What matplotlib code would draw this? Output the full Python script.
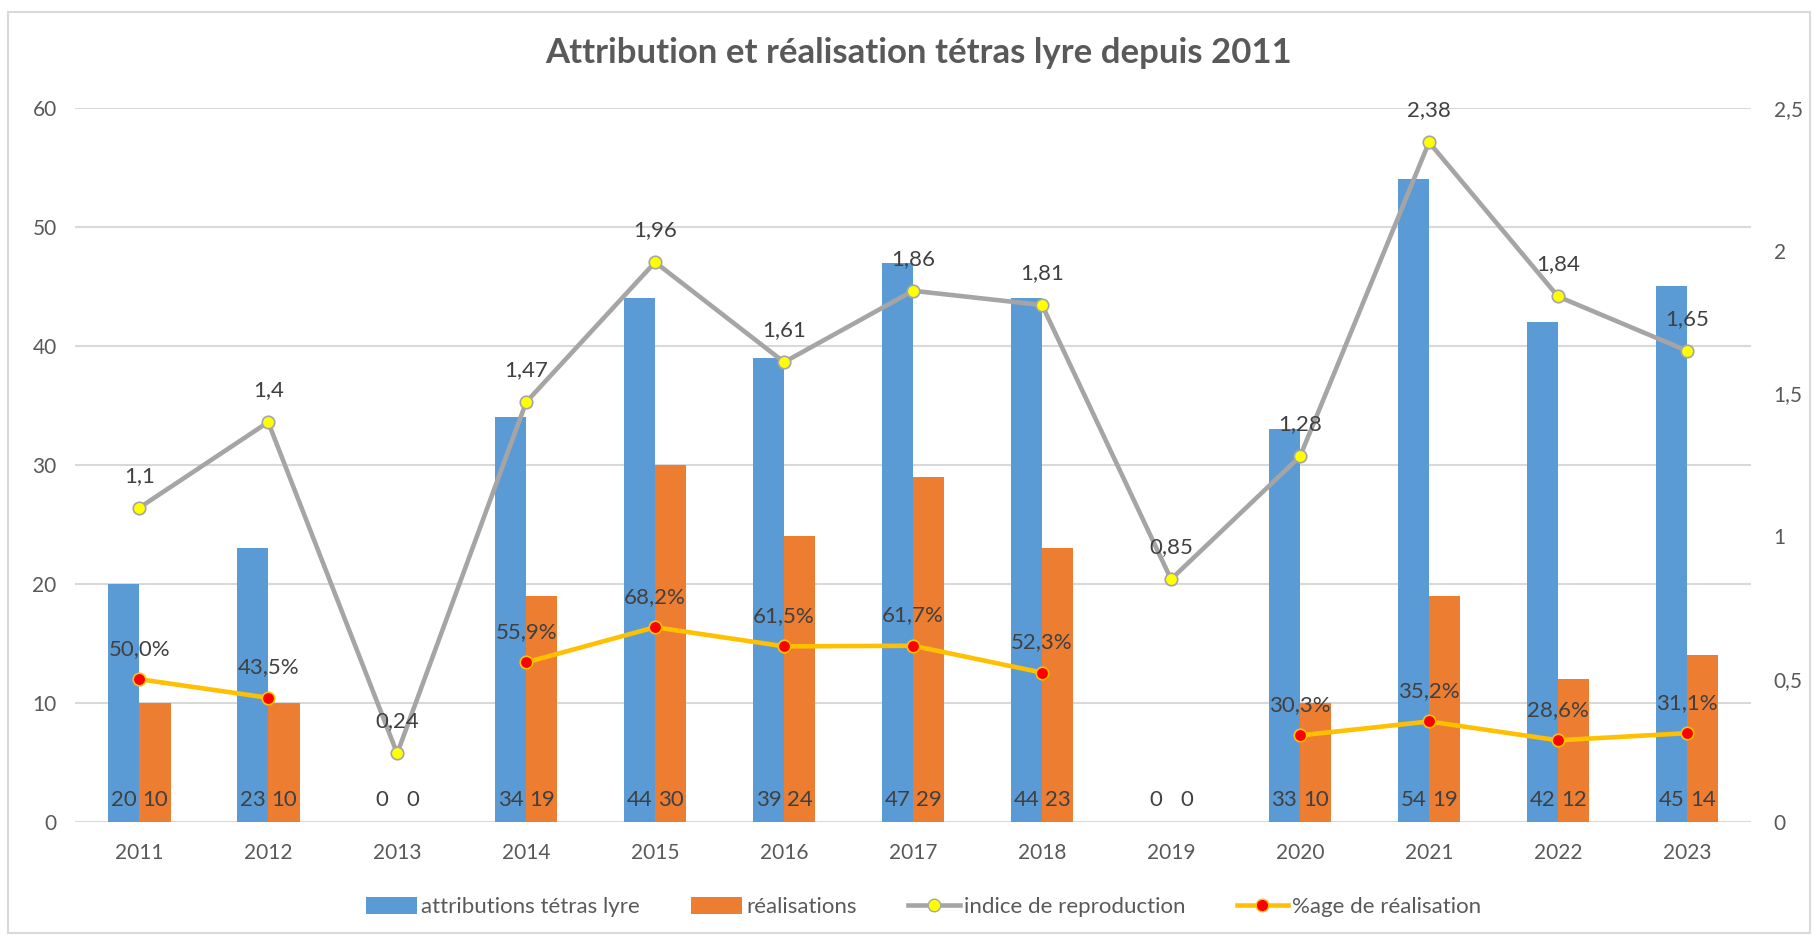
import numpy as np
import matplotlib
matplotlib.use('Agg')
import matplotlib.pyplot as plt
from matplotlib.patches import Rectangle, Patch
from matplotlib.lines import Line2D

plt.rcParams['font.family'] = ['Lato', 'DejaVu Sans']

# data
years = ['2011', '2012', '2013', '2014', '2015', '2016', '2017', '2018',
         '2019', '2020', '2021', '2022', '2023']
attributions = [20, 23, 0, 34, 44, 39, 47, 44, 0, 33, 54, 42, 45]
realisations = [10, 10, 0, 19, 30, 24, 29, 23, 0, 10, 19, 12, 14]
indice = [1.1, 1.4, 0.24, 1.47, 1.96, 1.61, 1.86, 1.81, 0.85, 1.28, 2.38, 1.84, 1.65]
pct_real = [50.0, 43.5, np.nan, 55.9, 68.2, 61.5, 61.7, 52.3, np.nan, 30.3, 35.2, 28.6, 31.1]

blue = '#5B9BD5'
orange = '#ED7D31'
grey = '#A5A5A5'
gold = '#FFC000'
txt = '#404040'
tick_col = '#595959'
grid_col = '#D9D9D9'

fig = plt.figure(figsize=(18.18, 9.39), dpi=100)
fig.patches.append(Rectangle((0.0045, 0.006), 0.991, 0.981, transform=fig.transFigure,
                             fill=False, edgecolor=grid_col, linewidth=1.5))

ax = fig.add_axes([0.0411, 0.1246, 0.9223, 0.7604])
ax2 = ax.twinx()

x = np.arange(len(years))
w = 0.243
b1 = ax.bar(x - w / 2, attributions, w, color=blue, zorder=2)
b2 = ax.bar(x + w / 2, realisations, w, color=orange, zorder=2)

ax.set_ylim(0, 60)
ax.set_yticks(range(0, 61, 10))
ax.set_xlim(-0.5, len(years) - 0.5)
ax.set_xticks(x)
ax.set_xticklabels(years)
ax.yaxis.grid(True, color=grid_col, linewidth=1.5, zorder=0)
ax.set_axisbelow(True)
for s in ax.spines.values():
    s.set_visible(False)
for s in ax2.spines.values():
    s.set_visible(False)
ax.tick_params(axis='both', length=0, labelsize=15, colors=tick_col)
ax.tick_params(axis='y', pad=13)
ax.tick_params(axis='x', pad=15)

# bar value labels at the base of the bars
for bars in (b1, b2):
    for r in bars:
        ax.annotate(f'{int(r.get_height())}', (r.get_x() + r.get_width() / 2, 0),
                    xytext=(0, 16), textcoords='offset points', ha='center', va='center',
                    fontsize=16, color=txt, zorder=5)

# secondary axis
ax2.set_ylim(0, 2.5)
ax2.set_yticks([0, 0.5, 1, 1.5, 2, 2.5])
ax2.set_yticklabels(['0', '0,5', '1', '1,5', '2', '2,5'])
ax2.tick_params(axis='y', length=0, labelsize=15, colors=tick_col, pad=16)

ax2.plot(x, indice, color=grey, linewidth=3.3, marker='o', markersize=9,
         markerfacecolor='#FFFF00', markeredgecolor=grey, markeredgewidth=1.2, zorder=3)
pct_frac = np.array(pct_real) / 100
ax2.plot(x, pct_frac, color=gold, linewidth=3.3, marker='o', markersize=9,
         markerfacecolor='#FF0000', markeredgecolor=gold, markeredgewidth=1.2, zorder=3)

for xi, v in zip(x, indice):
    ax2.annotate(f'{v:g}'.replace('.', ','), (xi, v), xytext=(0, 23),
                 textcoords='offset points', ha='center', va='center',
                 fontsize=16, color=txt, zorder=5)
for xi, v in zip(x, pct_real):
    if np.isnan(v):
        continue
    ax2.annotate(f'{v:.1f}%'.replace('.', ','), (xi, v / 100), xytext=(0, 22),
                 textcoords='offset points', ha='center', va='center',
                 fontsize=16, color=txt, zorder=5)

fig.text(0.5055, 0.944, 'Attribution et réalisation tétras lyre depuis 2011',
         ha='center', va='center', fontsize=25, fontweight='bold', color=tick_col)

handles = [
    Patch(facecolor=blue, label='attributions tétras lyre'),
    Patch(facecolor=orange, label='réalisations'),
    Line2D([], [], color=grey, linewidth=3.3, marker='o', markersize=9,
           markerfacecolor='#FFFF00', markeredgecolor=grey, label='indice de reproduction'),
    Line2D([], [], color=gold, linewidth=3.3, marker='o', markersize=9,
           markerfacecolor='#FF0000', markeredgecolor=gold, label='%age de réalisation'),
]
leg = fig.legend(handles=handles, loc='center', bbox_to_anchor=(0.508, 0.034), ncol=4,
                 frameon=False, fontsize=16, handlelength=2.3, handleheight=0.8,
                 columnspacing=2.3, handletextpad=0.2)
for t in leg.get_texts():
    t.set_color(tick_col)

fig.savefig('out.png', dpi=100)
